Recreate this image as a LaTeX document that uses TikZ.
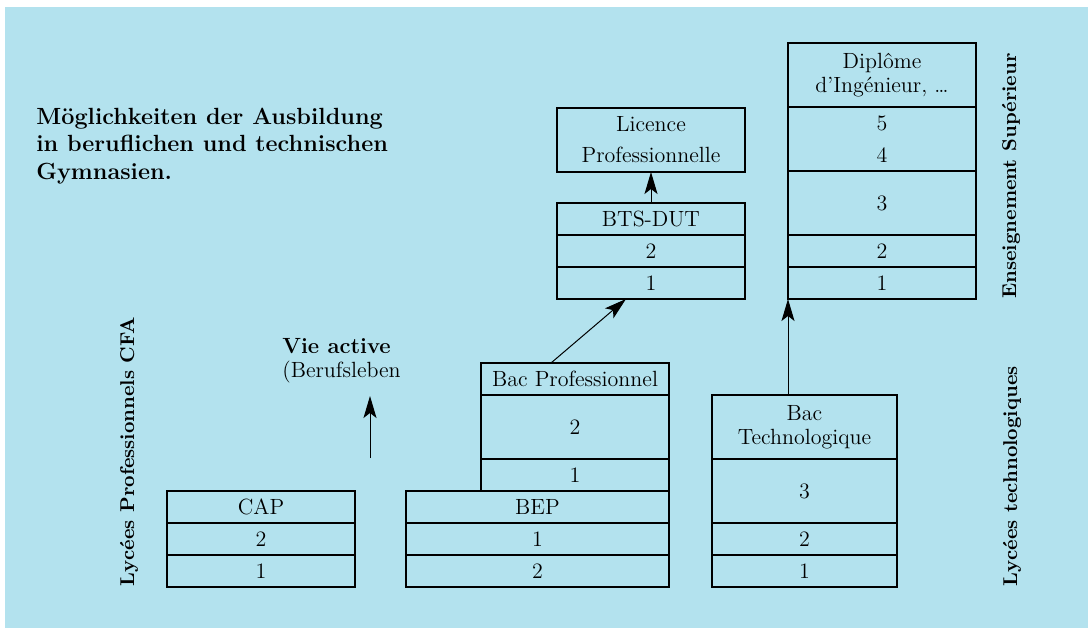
\documentclass[tikz,border=0pt]{standalone}
\usepackage{xcolor}
\usetikzlibrary{positioning,arrows.meta}
\definecolor{sky-blue}{RGB}{179,226,238}
\tikzset{
    year-cell/.style = {draw, line width=0.7pt, rectangle, minimum width=94pt, minimum height=16pt, inner sep=0pt, outer sep=0pt, align=center},
    double-cell/.style = {year-cell, minimum height=32pt},
    side-label/.style = {rotate=90, anchor=base west, font=\bfseries, inner sep=0pt},
    path-arrow/.style = {-{Stealth[length=11pt,width=6.5pt,inset=2.5pt]}, line width=0.5pt},
}

\begin{document}
\begin{tikzpicture}[x=0.5pt,y=0.5pt, font=\fontsize{11}{12}\selectfont]
\useasboundingbox (0,0) rectangle (1088,628);
\fill[sky-blue] (5,0) rectangle (1088,621);

\node[anchor=base west, align=left, inner sep=0pt, font=\bfseries\fontsize{11.7}{14}\selectfont] (title) at (36,448) {M\"oglichkeiten der Ausbildung\\in beruflichen und technischen\\Gymnasien.};

\node[year-cell, anchor=north] (cap-head) at (261,137) {CAP};
\node[year-cell, below=0pt of cap-head] (cap-2) {2};
\node[year-cell, below=0pt of cap-2] (cap-1) {1};

\node[year-cell, minimum width=131.5pt, anchor=north] (bep-head) at (537.5,137) {BEP};
\node[year-cell, minimum width=131.5pt, below=0pt of bep-head] (bep-1) {1};
\node[year-cell, minimum width=131.5pt, below=0pt of bep-1] (bep-2) {2};

\node[year-cell, anchor=north] (bp-head) at (575,265) {Bac Professionnel};
\node[double-cell, below=0pt of bp-head] (bp-2) {2};
\node[year-cell, below=0pt of bp-2] (bp-1) {1};

\node[double-cell, minimum width=92.5pt, anchor=north] (bt-head) at (804.5,233) {Bac\\Technologique};
\node[double-cell, minimum width=92.5pt, below=0pt of bt-head] (bt-3) {3};
\node[year-cell, minimum width=92.5pt, below=0pt of bt-3] (bt-2) {2};
\node[year-cell, minimum width=92.5pt, below=0pt of bt-2] (bt-1) {1};

\node[year-cell, anchor=north] (bts-head) at (651,425) {BTS-DUT};
\node[year-cell, below=0pt of bts-head] (bts-2) {2};
\node[year-cell, below=0pt of bts-2] (bts-1) {1};

\node[double-cell, anchor=north] (lic) at (651,520) {Licence\\[3.5pt]Professionnelle};

\node[double-cell, anchor=north] (dip-head) at (882,585) {Dipl\^ome\\d'Ing\'enieur, \ldots};
\node[double-cell, below=0pt of dip-head] (dip-54) {5\\[4pt]4};
\node[double-cell, below=0pt of dip-54] (dip-3) {3};
\node[year-cell, below=0pt of dip-3] (dip-2) {2};
\node[year-cell, below=0pt of dip-2] (dip-1) {1};

\node[side-label] (lp-label) at (134,41) {Lyc\'ees Professionnels CFA};
\node[side-label] (lt-label) at (1017,41) {Lyc\'ees technologiques};
\node[side-label] (es-label) at (1016,329) {Enseignement Sup\'erieur};

\node[anchor=base west, align=left, inner sep=0pt] (vie) at (282,251) {\textbf{Vie active}\\(Berufsleben};
\coordinate (vie-start) at (370,170);
\coordinate (vie-end) at (370,232);

\draw[path-arrow] (vie-start) -- (vie-end);
\draw[path-arrow] ([xshift=-12pt]bp-head.north) -- ([xshift=-12.5pt]bts-1.south);
\draw[path-arrow] (bts-head.north) -- (lic.south);
\draw[path-arrow] (bt-head.north -| dip-1.south west) -- (dip-1.south west);
\end{tikzpicture}
\end{document}
